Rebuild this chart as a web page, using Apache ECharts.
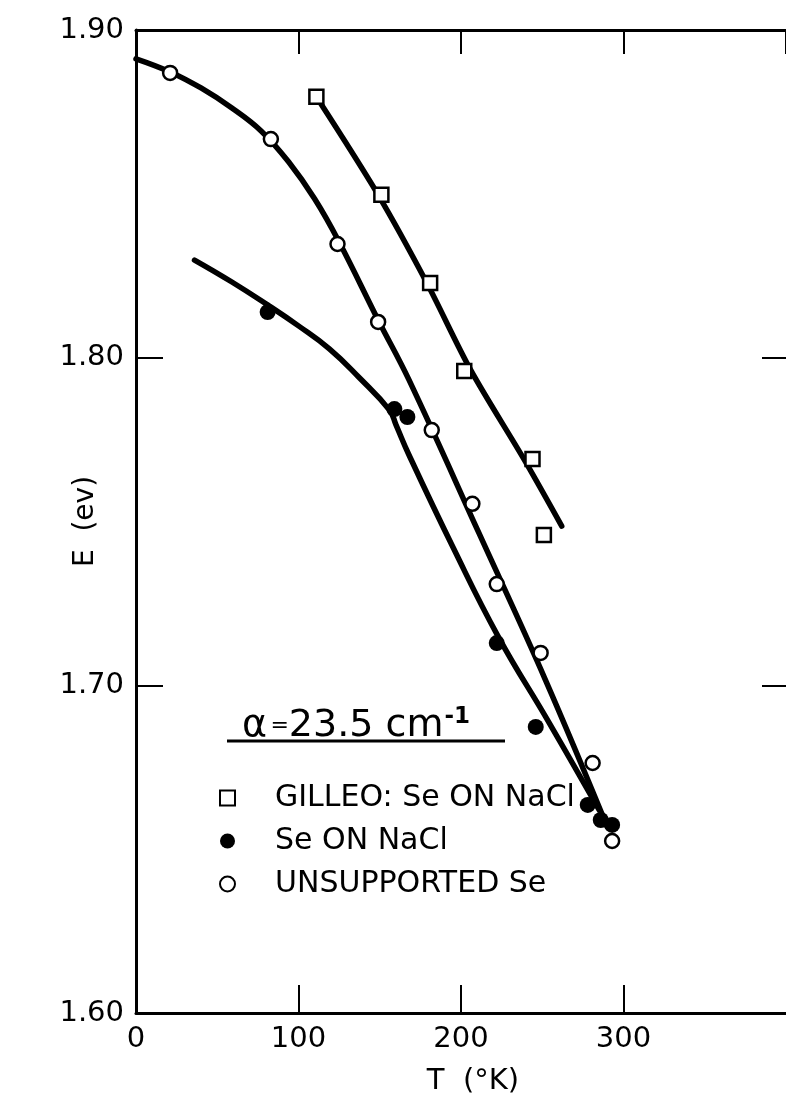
<!DOCTYPE html>
<html>
<head>
<meta charset="utf-8">
<script src="https://cdn.jsdelivr.net/npm/echarts@6/dist/echarts.min.js"></script>
<style>
html,body{margin:0;padding:0;background:#fff;}
#c{width:786px;height:1101px;}
</style>
</head>
<body>
<div id="c"></div>
<script>
// ---- data ----
const xTicks = [0, 100, 200, 300, 400];
const yTicks = [1.60, 1.70, 1.80, 1.90];

// GILLEO: Se ON NaCl (open squares)
const gilleoT = [111, 151, 181, 202, 244, 251];
const gilleoE = [1.8796, 1.8497, 1.8228, 1.7959, 1.7691, 1.7459];
// Se ON NaCl (filled circles)
const seNaclT = [81, 159, 167, 222, 246, 278, 286, 293];
const seNaclE = [1.8139, 1.7843, 1.7819, 1.7129, 1.6873, 1.6635, 1.6589, 1.6574];
// UNSUPPORTED Se (open circles)
const unsupT = [21, 83, 124, 149, 182, 207, 222, 249, 281, 293];
const unsupE = [1.8869, 1.8667, 1.8347, 1.8109, 1.7779, 1.7554, 1.7309, 1.7099, 1.6763, 1.6525];

// hand-drawn fitted curves (traced)
const gilleoCurveT = [111, 149, 179, 206, 239, 262];
const gilleoCurveE = [1.8796, 1.8497, 1.8228, 1.7962, 1.7688, 1.7486];
const unsupCurveT = [0, 21, 40, 59, 77, 94, 110, 125, 149, 168, 211, 252, 290];
const unsupCurveE = [1.8912, 1.8872, 1.8823, 1.8762, 1.8692, 1.8597, 1.8484, 1.8353, 1.8115, 1.7932, 1.7465, 1.7016, 1.6568];
const seCurveT = [36, 59, 81, 100, 119, 137, 156, 160, 168, 195, 223, 254, 285];
const seCurveE = [1.8298, 1.8231, 1.8161, 1.8097, 1.8027, 1.7941, 1.784, 1.7795, 1.7703, 1.7422, 1.7148, 1.6888, 1.662];

const seriesNames = ['GILLEO: Se ON NaCl', 'Se ON NaCl', 'UNSUPPORTED Se'];

const zip = (a, b) => a.map((v, i) => [v, b[i]]);
const FONT = 'DejaVu Sans';
const INK = '#000';

const chart = echarts.init(document.getElementById('c'), null, {renderer: 'canvas'});

const lineStyleCurve = {color: INK, width: 5.5, cap: 'round', join: 'round'};

chart.setOption({
  backgroundColor: '#fff',
  animation: false,
  grid: {left: 136, top: 30, right: -3, bottom: 88, containLabel: false},
  xAxis: [{
    type: 'value', position: 'bottom',
    min: xTicks[0], max: xTicks[xTicks.length - 1], interval: 100,
    name: 'T  (°K)', nameLocation: 'middle', nameGap: 54, nameMoveOverlap: false,
    nameTextStyle: {fontFamily: FONT, fontSize: 29, color: INK, padding: [0, 0, 0, 24]},
    axisLine: {show: true, onZero: false, lineStyle: {color: INK, width: 3}},
    axisTick: {show: true, inside: true, length: 28, lineStyle: {color: INK, width: 2}},
    axisLabel: {show: true, fontFamily: FONT, fontSize: 29, color: INK, margin: 12, showMaxLabel: false},
    splitLine: {show: false}
  }, {
    type: 'value', position: 'top',
    min: xTicks[0], max: xTicks[xTicks.length - 1], interval: 100,
    axisLine: {show: true, onZero: false, lineStyle: {color: INK, width: 3}},
    axisTick: {show: true, inside: true, length: 24, lineStyle: {color: INK, width: 2}},
    axisLabel: {show: false},
    splitLine: {show: false}
  }],
  yAxis: [{
    type: 'value', position: 'left',
    min: yTicks[0], max: yTicks[yTicks.length - 1], interval: 0.1,
    name: 'E  (ev)', nameLocation: 'middle', nameGap: 36, nameRotate: 90, nameMoveOverlap: false,
    nameTextStyle: {fontFamily: FONT, fontSize: 28, color: INK},
    axisLine: {show: true, onZero: false, lineStyle: {color: INK, width: 3}},
    axisTick: {show: true, inside: true, length: 27, lineStyle: {color: INK, width: 2}},
    axisLabel: {show: true, fontFamily: FONT, fontSize: 29, color: INK, margin: 12,
      formatter: v => v.toFixed(2)},
    splitLine: {show: false}
  }, {
    type: 'value', position: 'right',
    min: yTicks[0], max: yTicks[yTicks.length - 1], interval: 0.1,
    axisLine: {show: false, onZero: false},
    axisTick: {show: true, inside: true, length: 24, lineStyle: {color: INK, width: 2}},
    axisLabel: {show: false},
    splitLine: {show: false}
  }],
  legend: {
    orient: 'vertical', left: 214, top: 778,
    data: seriesNames,
    itemWidth: 15, itemHeight: 15, itemGap: 13,
    textStyle: {fontFamily: FONT, fontSize: 30, color: INK, padding: [0, 0, 0, 35]},
    selectedMode: false
  },
  graphic: [
    {
      type: 'text', left: 242, top: 706, z: 10,
      style: {
        text: '{a|α} {e|=}{n|23.5 cm}{s|-1}',
        rich: {
          a: {fontFamily: FONT, fontSize: 38, fill: INK},
          e: {fontFamily: FONT, fontSize: 22, fill: INK},
          n: {fontFamily: FONT, fontSize: 38, fill: INK},
          s: {fontFamily: FONT, fontSize: 23, fontWeight: 'bold', fill: INK, padding: [0, 0, 17, 1]}
        }
      }
    },
    {
      type: 'line', z: 10,
      shape: {x1: 227, y1: 741, x2: 505, y2: 741},
      style: {stroke: INK, lineWidth: 3}
    }
  ],
  series: [
    {type: 'line', name: 'gilleoCurve', data: zip(gilleoCurveT, gilleoCurveE), smooth: 0.3,
      showSymbol: false, lineStyle: lineStyleCurve, z: 2, silent: true},
    {type: 'line', name: 'unsupCurve', data: zip(unsupCurveT, unsupCurveE), smooth: 0.4,
      showSymbol: false, lineStyle: lineStyleCurve, z: 2, silent: true},
    {type: 'line', name: 'seCurve', data: zip(seCurveT, seCurveE), smooth: 0.45,
      showSymbol: false, lineStyle: lineStyleCurve, z: 2, silent: true},
    {type: 'scatter', name: seriesNames[0], data: zip(gilleoT, gilleoE),
      symbol: 'rect', symbolSize: 14, z: 5,
      itemStyle: {color: '#fff', borderColor: INK, borderWidth: 2.5, opacity: 1}},
    {type: 'scatter', name: seriesNames[1], data: zip(seNaclT, seNaclE),
      symbol: 'circle', symbolSize: 16, z: 5,
      itemStyle: {color: INK, borderColor: INK, borderWidth: 0, opacity: 1}},
    {type: 'scatter', name: seriesNames[2], data: zip(unsupT, unsupE),
      symbol: 'circle', symbolSize: 14, z: 6,
      itemStyle: {color: '#fff', borderColor: INK, borderWidth: 2.5, opacity: 1}}
  ]
});
</script>
</body>
</html>
